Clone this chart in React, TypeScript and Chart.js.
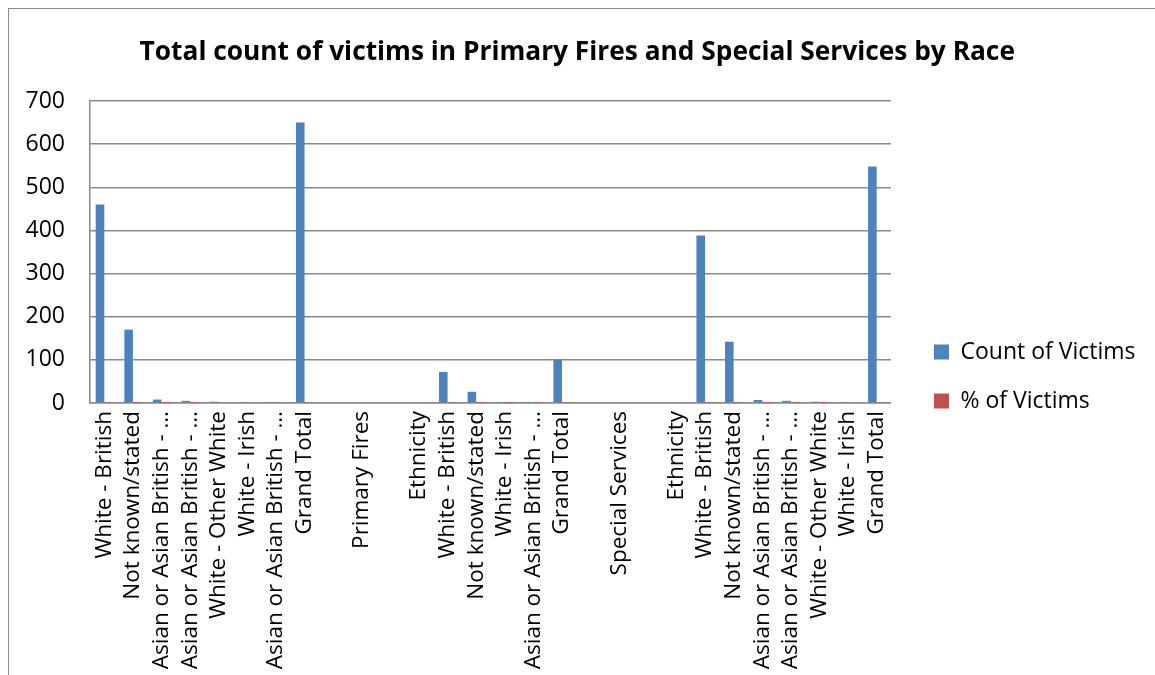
import React, { useEffect, useRef } from "react";
import { Chart, registerables } from "chart.js";

Chart.register(...registerables);

const TITLE = "Total count of victims in Primary Fires and Special Services by Race";

const categories: string[] = [
  "White - British",
  "Not known/stated",
  "Asian or Asian British - …",
  "Asian or Asian British - …",
  "White - Other White",
  "White - Irish",
  "Asian or Asian British - …",
  "Grand Total",
  "",
  "Primary Fires",
  "",
  "Ethnicity",
  "White - British",
  "Not known/stated",
  "White - Irish",
  "Asian or Asian British - …",
  "Grand Total",
  "",
  "Special Services",
  "",
  "Ethnicity",
  "White - British",
  "Not known/stated",
  "Asian or Asian British - …",
  "Asian or Asian British - …",
  "White - Other White",
  "White - Irish",
  "Grand Total",
];

const countOfVictims: (number | null)[] = [
  460, 170, 8, 5, 3, 2, 1, 650,
  null, null, null, null,
  72, 26, 1, 1, 100,
  null, null, null, null,
  388, 142, 7, 5, 3, 2, 548,
];

const pctOfVictims: (number | null)[] = [
  0.71, 0.26, 0.01, 0.01, 0.0, 0.0, 0.0, 1,
  null, null, null, null,
  0.72, 0.26, 0.01, 0.01, 1,
  null, null, null, null,
  0.71, 0.26, 0.01, 0.01, 0.01, 0.0, 1,
];

const yTicks = { min: 0, max: 700, step: 100 };

const BLUE = "#4F81BD";
const RED = "#C0504D";
const GRID = "#8a8a8a";

export default function App() {
  const ref = useRef<HTMLCanvasElement | null>(null);

  useEffect(() => {
    if (!ref.current) return;
    Chart.defaults.font.family = '"Open Sans", "DejaVu Sans", sans-serif';
    Chart.defaults.color = "#000";
    const chart = new Chart(ref.current, {
      type: "bar",
      data: {
        labels: categories,
        datasets: [
          {
            label: "Count of Victims",
            data: countOfVictims,
            backgroundColor: BLUE,
            borderWidth: 0,
            categoryPercentage: 0.6,
            barPercentage: 1,
          },
          {
            label: "% of Victims",
            data: pctOfVictims,
            backgroundColor: RED,
            borderWidth: 0,
            categoryPercentage: 0.6,
            barPercentage: 1,
          },
        ],
      },
      options: {
        responsive: false,
        animation: false,
        devicePixelRatio: 1,
        layout: { padding: { left: 0, right: 9.5, top: 0, bottom: 0 } },
        plugins: {
          tooltip: { enabled: false },
          title: {
            display: true,
            text: TITLE,
            font: { size: 26.3, weight: "bold" },
            color: "#000",
            padding: { top: 28, bottom: 32.4 },
          },
          legend: {
            position: "right",
            maxWidth: 320,
            title: { display: true, text: "", padding: { top: 0, bottom: 54.6 } },
            labels: {
              boxWidth: 15,
              boxHeight: 15,
              padding: 26,
              font: { size: 23 },
              color: "#000",
            },
          },
        },
        scales: {
          x: {
            grid: { display: false, drawTicks: false },
            border: { display: true, color: GRID, width: 1.5 },
            ticks: {
              autoSkip: false,
              maxRotation: 90,
              minRotation: 90,
              padding: 8,
              font: { size: 22.5 },
              color: "#000",
            },
            afterFit: (s: any) => {
              s.height = 272;
            },
          },
          y: {
            min: yTicks.min,
            max: yTicks.max,
            ticks: { stepSize: yTicks.step, padding: 25, font: { size: 23 }, color: "#000" },
            grid: { color: GRID, lineWidth: 1.5, drawTicks: false },
            border: { display: true, color: GRID, width: 1.5 },
            afterFit: (s: any) => {
              s.width = 81;
            },
          },
          yR: {
            position: "right",
            display: true,
            grid: { display: false, drawTicks: false },
            ticks: { display: false },
            border: { display: false },
            afterFit: (s: any) => {
              s.width = 17;
            },
          },
        },
      },
    });
    return () => chart.destroy();
  }, []);

  return (
    <div
      style={{
        position: "fixed",
        left: 8,
        top: 8,
        width: 1147,
        height: 667,
        borderLeft: "1px solid #8c8c8c",
        borderTop: "1px solid #8c8c8c",
        boxSizing: "border-box",
        background: "#fff",
        overflow: "hidden",
      }}
    >
      <canvas ref={ref} width={1146} height={666} style={{ display: "block" }} />
    </div>
  );
}
